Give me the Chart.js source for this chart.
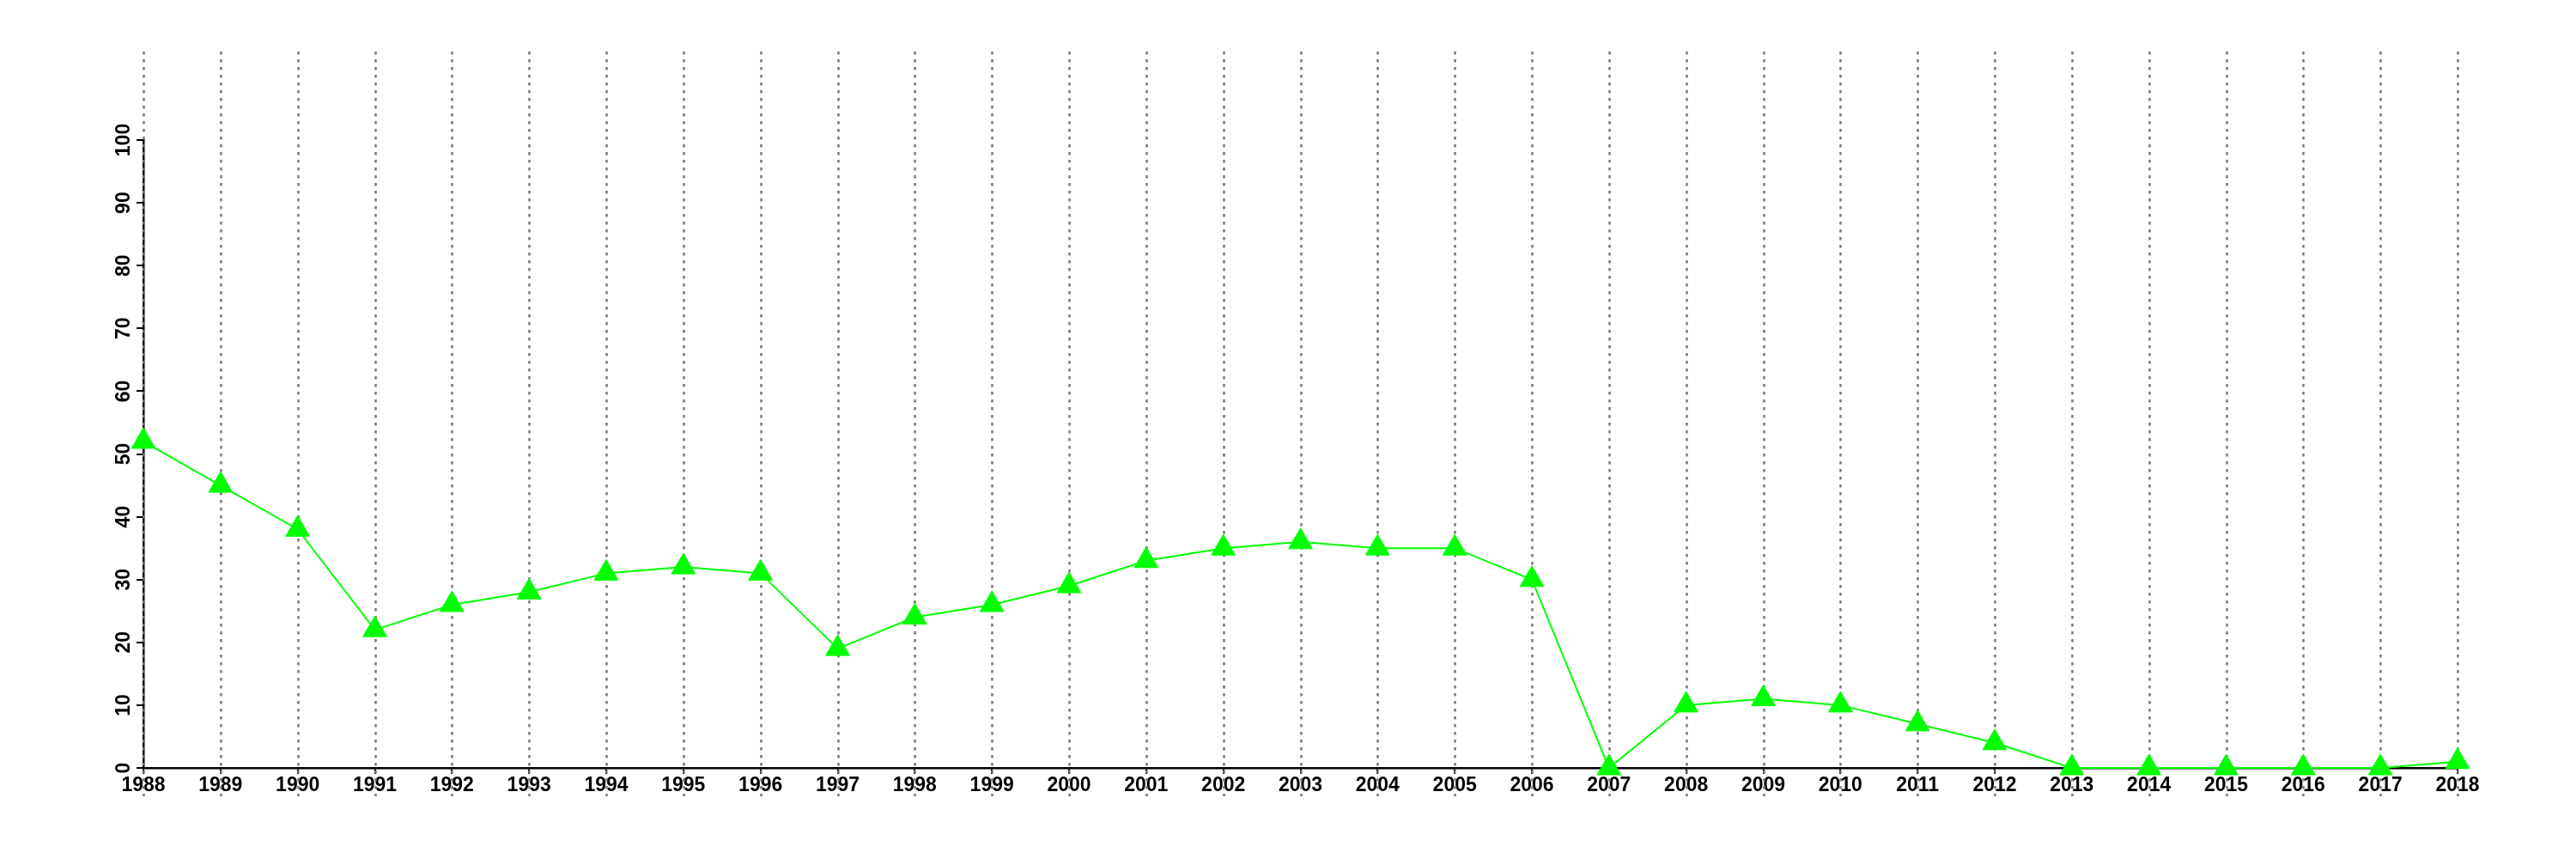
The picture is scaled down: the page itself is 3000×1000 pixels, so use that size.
<!DOCTYPE html>
<html>
<head>
<meta charset="utf-8">
<script src="https://cdn.jsdelivr.net/npm/chart.js@4"></script>
<style>
  body { margin: 0; background: #fff; }
  canvas { display: block; }
</style>
</head>
<body>
<canvas id="chart" width="3000" height="1000"></canvas>
<script>
const years = [
  "1988", "1989", "1990", "1991", "1992", "1993", "1994", "1995", "1996", "1997",
  "1998", "1999", "2000", "2001", "2002", "2003", "2004", "2005", "2006", "2007",
  "2008", "2009", "2010", "2011", "2012", "2013", "2014", "2015", "2016", "2017", "2018"
];
const values = [
  52, 45, 38, 22, 26, 28, 31, 32, 31, 19,
  24, 26, 29, 33, 35, 36, 35, 35, 30, 0,
  10, 11, 10, 7, 4, 0, 0, 0, 0, 0, 1
];
const yMin = 0;
const yMax = 100;
const yStep = 10;

const FONT = '"Liberation Sans", Arial, sans-serif';

// dotted vertical grid lines, they run past the plot at top and bottom
const gridPlugin = {
  id: 'dottedGrid',
  beforeDatasetsDraw(chart) {
    const x = chart.scales.x, area = chart.chartArea, ctx = chart.ctx;
    ctx.save();
    ctx.strokeStyle = '#7a7a7a';
    ctx.lineWidth = 2.5;
    ctx.setLineDash([3.5, 5.5]);
    x.ticks.forEach((t, i) => {
      const px = Math.round(x.getPixelForTick(i)) + 0.5;
      ctx.beginPath();
      ctx.moveTo(px, area.top - 103);
      ctx.lineTo(px, area.bottom + 33);
      ctx.stroke();
    });
    ctx.restore();
  }
};

// y labels turned to read bottom to top
const yLabelPlugin = {
  id: 'yLabels',
  afterDraw(chart) {
    const y = chart.scales.y, ctx = chart.ctx;
    ctx.save();
    ctx.font = 'bold 23px ' + FONT;
    ctx.fillStyle = '#000';
    ctx.textAlign = 'center';
    ctx.textBaseline = 'alphabetic';
    y.ticks.forEach(t => {
      const py = y.getPixelForValue(t.value);
      ctx.save();
      ctx.translate(chart.chartArea.left - 16, py);
      ctx.rotate(-Math.PI / 2);
      ctx.fillText(String(t.value), 0, 0);
      ctx.restore();
    });
    ctx.restore();
  }
};

new Chart(document.getElementById('chart'), {
  type: 'line',
  data: {
    labels: years,
    datasets: [{
      data: values,
      borderColor: '#00ff00',
      borderWidth: 2,
      tension: 0,
      clip: false,
      pointStyle: 'triangle',
      pointRadius: 16,
      pointBackgroundColor: '#00ff00',
      pointBorderColor: '#00ff00',
      pointBorderWidth: 1
    }]
  },
  options: {
    responsive: false,
    animation: false,
    layout: { padding: { left: 0, right: 138, top: 163, bottom: 0 } },
    plugins: {
      legend: { display: false },
      tooltip: { enabled: false }
    },
    scales: {
      x: {
        offset: false,
        grid: { drawOnChartArea: false, drawTicks: true, tickLength: 7, color: '#000', lineWidth: 2 },
        border: { display: true, color: '#000', width: 2.5 },
        ticks: {
          autoSkip: false,
          maxRotation: 0,
          padding: 0,
          color: '#000',
          font: { family: FONT, size: 23, weight: 'bold' }
        },
        afterFit: (s) => { s.height = 106; }
      },
      y: {
        min: yMin,
        max: yMax,
        grid: { drawOnChartArea: false, drawTicks: true, tickLength: 8, color: '#000', lineWidth: 2 },
        border: { display: true, color: '#000', width: 2.5 },
        ticks: { stepSize: yStep, display: false },
        afterFit: (s) => { s.width = 167; }
      }
    }
  },
  plugins: [gridPlugin, yLabelPlugin]
});
</script>
</body>
</html>
